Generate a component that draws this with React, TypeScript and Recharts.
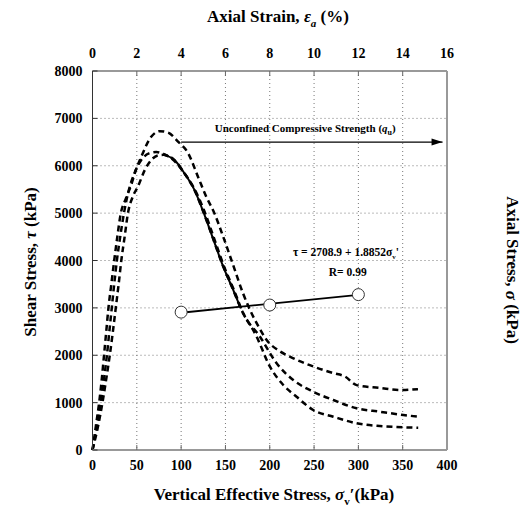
import React from 'react';
import { ComposedChart, Line, XAxis, YAxis, CartesianGrid, ReferenceDot } from 'recharts';

const stressTicks = [0, 50, 100, 150, 200, 250, 300, 350, 400];
const strainTicks = [0, 2, 4, 6, 8, 10, 12, 14, 16];
const yTicks = [0, 1000, 2000, 3000, 4000, 5000, 6000, 7000, 8000];

// sample curves, plotted against axial strain (%)
const strainA = [0, 0.15, 0.3, 0.42, 0.52, 0.62, 0.72, 0.85, 0.98, 1.12, 1.28, 1.5, 1.75, 1.95, 2.2, 2.65, 3.03, 3.41, 3.86, 4.31, 4.76, 5.13, 5.5, 5.9, 6.35, 6.8, 7.11, 7.5, 7.86, 8.4, 8.91, 9.81, 10.85, 11.4, 11.92, 12.97, 13.88, 14.69];
const stressA = [0, 500, 1000, 1500, 2000, 2500, 3000, 3500, 4000, 4500, 5000, 5300, 5600, 5900, 6190, 6610, 6730, 6700, 6510, 6270, 5770, 5350, 5000, 4500, 3900, 3300, 2955, 2600, 2320, 2100, 1970, 1790, 1625, 1550, 1370, 1310, 1265, 1285];

const strainB = [0, 0.2, 0.38, 0.52, 0.65, 0.76, 0.87, 0.98, 1.1, 1.25, 1.42, 1.62, 1.9, 2.2, 2.55, 2.88, 3.2, 3.6, 4.1, 4.6, 5.05, 5.5, 5.95, 6.4, 6.8, 7.56, 8.31, 9.06, 9.96, 10.87, 11.92, 12.97, 14.03, 14.7];
const stressB = [0, 500, 1000, 1500, 2000, 2500, 3000, 3500, 4000, 4500, 5000, 5450, 5850, 6120, 6260, 6290, 6250, 6140, 5870, 5510, 5040, 4450, 3860, 3360, 2885, 2391, 1830, 1477, 1230, 1055, 880, 808, 739, 703];

const strainC = [0, 0.25, 0.45, 0.62, 0.78, 0.92, 1.05, 1.18, 1.3, 1.45, 1.6, 1.82, 2.05, 2.36, 2.65, 2.96, 3.2, 3.7, 4.15, 4.6, 5.0, 5.45, 5.9, 6.35, 6.66, 7.41, 8.01, 8.61, 9.21, 9.96, 10.87, 11.92, 12.97, 14.03, 14.7];
const stressC = [0, 500, 1000, 1500, 2000, 2500, 3000, 3500, 4000, 4500, 5000, 5350, 5560, 5910, 6120, 6220, 6230, 6120, 5840, 5490, 5030, 4450, 3870, 3380, 3024, 2391, 1759, 1372, 1125, 844, 703, 563, 506, 479, 471];

const strainSolid = [3.2, 3.7, 4.15, 4.6, 5.0, 5.45, 5.9, 6.35, 6.66];
const stressSolid = [6230, 6120, 5840, 5490, 5030, 4450, 3870, 3380, 3024];

// shear strength vs vertical effective stress
const sigmaV = [100, 200, 300];
const tau = [2910, 3060, 3280];
const fitSigma = [100, 300];
const fitTau = [2897, 3275];

// qu arrow
const arrowSigma = [100, 395];
const arrowStress = [6500, 6500];

const zip = (xs: number[], ys: number[]) => xs.map((x, i) => ({ x, y: ys[i] }));

const FONT = '"Liberation Serif", "Times New Roman", serif';
const tickText = { fontFamily: FONT, fontWeight: 700, fontSize: 14 };

const TickTop = (props: any) => (
  <text x={props.x} y={props.y} textAnchor="middle" fill="#000" style={tickText}>{props.payload.value}</text>
);
const TickBottom = (props: any) => (
  <text x={props.x} y={props.y} dy="0.75em" textAnchor="middle" fill="#000" style={tickText}>{props.payload.value}</text>
);
const TickLeft = (props: any) => (
  <text x={props.x} y={props.y} dy="0.36em" textAnchor="end" fill="#000" style={tickText}>{props.payload.value}</text>
);
const TickRight = (props: any) => (
  <text x={props.x} y={props.y} dy="0.36em" textAnchor="start" fill="#000" style={tickText}>{props.payload.value}</text>
);

const ArrowHead = (props: any) => {
  const { cx, cy, index } = props;
  if (index !== 1) return <g key={`a${index}`} />;
  return <path key={`a${index}`} d={`M${cx},${cy} L${cx - 11},${cy - 3.5} L${cx - 11},${cy + 3.5} Z`} fill="#000" />;
};

const titleStyle = { fontFamily: FONT, fontWeight: 700, fontSize: 17 };

const TopTitle = () => (
  <text x={278} y={22} textAnchor="middle" fill="#000" style={titleStyle}>
    Axial Strain, <tspan fontStyle="italic">ε</tspan>
    <tspan fontStyle="italic" fontSize={11} dy={5}>a</tspan>
    <tspan dy={-5}> (%)</tspan>
  </text>
);

const BottomTitle = () => (
  <text x={274} y={500} textAnchor="middle" fill="#000" style={titleStyle}>
    Vertical Effective Stress, <tspan fontStyle="italic">σ</tspan>
    <tspan fontSize={11} dy={5}>v</tspan>
    <tspan dy={-5}>′(kPa)</tspan>
  </text>
);

const LeftTitle = () => (
  <text x={30} y={262} transform="rotate(-90, 30, 262)" textAnchor="middle" dominantBaseline="central"
    fill="#000" style={titleStyle}>
    Shear Stress, <tspan fontStyle="italic">τ</tspan> (kPa)
  </text>
);

const RightTitle = () => (
  <text x={512} y={270} transform="rotate(90, 512, 270)" textAnchor="middle" dominantBaseline="central"
    fill="#000" style={titleStyle}>
    Axial Stress, <tspan fontStyle="italic">σ</tspan> (kPa)
  </text>
);

const noteStyle = { fontFamily: FONT, fontWeight: 700, fontSize: 11 };

const QuLabel = (props: any) => (
  <text x={props.viewBox.x} y={props.viewBox.y} textAnchor="middle" fill="#000" style={noteStyle}>
    Unconfined Compressive Strength (<tspan fontStyle="italic">q</tspan>
    <tspan fontSize={8} dy={3}>u</tspan>
    <tspan dy={-3}>)</tspan>
  </text>
);

const EqLabel = (props: any) => (
  <text x={props.viewBox.x} y={props.viewBox.y} textAnchor="middle" fill="#000" style={{ ...noteStyle, fontSize: 11.5 }}>
    τ = 2708.9 + 1.8852σ<tspan fontSize={7} dy={3}>v</tspan>
    <tspan dy={-3}>'</tspan>
  </text>
);

const RLabel = (props: any) => (
  <text x={props.viewBox.x} y={props.viewBox.y} textAnchor="middle" fill="#000" style={{ ...noteStyle, fontSize: 11.5 }}>
    R= 0.99
  </text>
);

const App: React.FC = () => {
  return (
    <div style={{ position: 'absolute', left: 0, top: 0 }}>
      <ComposedChart width={528} height={509} margin={{ top: 41, right: 21, bottom: 29, left: 32.5 }}
        style={{ fontFamily: FONT }}>
        <CartesianGrid xAxisId="bottom" yAxisId="left" stroke="#777" strokeDasharray="1 3" />
        <XAxis
          xAxisId="bottom"
          type="number"
          dataKey="x"
          domain={[0, 400]}
          ticks={stressTicks}
          height={30}
          stroke="#999"
          strokeWidth={2}
          tickSize={-5}
          tickMargin={14}
          tickLine={{ stroke: '#666', strokeWidth: 1 }}
          tick={TickBottom}
          label={BottomTitle}
        />
        <XAxis
          xAxisId="top"
          orientation="top"
          type="number"
          dataKey="x"
          domain={[0, 16]}
          ticks={strainTicks}
          height={30}
          stroke="#999"
          strokeWidth={2}
          tickSize={-5}
          tickMargin={18}
          tickLine={{ stroke: '#666', strokeWidth: 1 }}
          tick={TickTop}
          label={TopTitle}
        />
        <YAxis
          yAxisId="left"
          type="number"
          domain={[0, 8000]}
          ticks={yTicks}
          width={60}
          stroke="#333"
          tickSize={-5}
          tickMargin={15}
          tickLine={{ stroke: '#333', strokeWidth: 1 }}
          tick={TickLeft}
          label={LeftTitle}
        />
        <YAxis
          yAxisId="right"
          orientation="right"
          type="number"
          domain={[0, 8000]}
          ticks={yTicks}
          width={60}
          stroke="#999"
          strokeWidth={2}
          tickSize={-5}
          tickMargin={13}
          tickLine={{ stroke: '#666', strokeWidth: 1 }}
          tick={TickRight}
          label={RightTitle}
        />

        <Line data={zip(strainA, stressA)} xAxisId="top" yAxisId="left" dataKey="y" type="monotone"
          stroke="#000" strokeWidth={2.5} strokeDasharray="6 4" dot={false} isAnimationActive={false} />
        <Line data={zip(strainB, stressB)} xAxisId="top" yAxisId="left" dataKey="y" type="monotone"
          stroke="#000" strokeWidth={2.5} strokeDasharray="6 4" dot={false} isAnimationActive={false} />
        <Line data={zip(strainC, stressC)} xAxisId="top" yAxisId="left" dataKey="y" type="monotone"
          stroke="#000" strokeWidth={2.5} strokeDasharray="6 4" dot={false} isAnimationActive={false} />
        <Line data={zip(strainSolid, stressSolid)} xAxisId="top" yAxisId="left" dataKey="y" type="monotone"
          stroke="#000" strokeWidth={2} dot={false} isAnimationActive={false} />

        <Line data={zip(arrowSigma, arrowStress)} xAxisId="bottom" yAxisId="left" dataKey="y" type="linear"
          stroke="#000" strokeWidth={1.2} dot={ArrowHead} isAnimationActive={false} />

        <Line data={zip(fitSigma, fitTau)} xAxisId="bottom" yAxisId="left" dataKey="y" type="linear"
          stroke="#000" strokeWidth={1.8} dot={false} isAnimationActive={false} />
        <Line data={zip(sigmaV, tau)} xAxisId="bottom" yAxisId="left" dataKey="y" type="linear"
          stroke="none" dot={{ r: 6, fill: '#fff', stroke: '#333', strokeWidth: 1 }} isAnimationActive={false} />

        <ReferenceDot xAxisId="bottom" yAxisId="left" x={240} y={6720} r={0} stroke="none" label={QuLabel} />
        <ReferenceDot xAxisId="bottom" yAxisId="left" x={286} y={4100} r={0} stroke="none" label={EqLabel} />
        <ReferenceDot xAxisId="bottom" yAxisId="left" x={288} y={3680} r={0} stroke="none" label={RLabel} />
      </ComposedChart>
    </div>
  );
};

export default App;
